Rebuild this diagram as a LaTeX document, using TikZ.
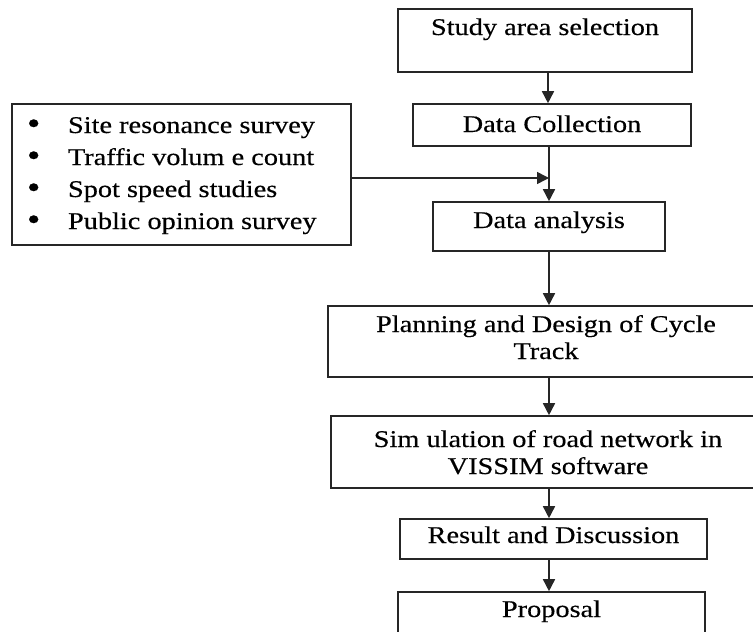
\documentclass[tikz,border=0pt]{standalone}
\usepackage{fontspec}
\setmainfont{Liberation Serif}[FakeStretch=1.18,FakeBold=0.4]
\usetikzlibrary{arrows.meta}
\newcommand{\flowtext}[4]{\parbox[c][#2][t]{#1}{\centering\setlength{\baselineskip}{27pt}\rule{0pt}{#3}#4\par}}
\newcommand{\surveyitem}[1]{\makebox[41pt][l]{\raisebox{-1pt}{\scalebox{1.35}{\textbullet}}}#1}
\tikzset{
  stepbox/.style={draw=black!85, line width=1.6pt, inner sep=0pt},
  flow/.style={draw=black!85, line width=1.6pt, -{Triangle[width=12pt,length=12pt]}}
}
\begin{document}
\begin{tikzpicture}[x=1pt,y=-1pt,font=\fontsize{24pt}{27pt}\selectfont]
\useasboundingbox (0,0) rectangle (753,632);
\clip (0,0) rectangle (753,632);
% main steps
\node[stepbox] (study) at (545,40.5) {\flowtext{294pt}{63pt}{26pt}{Study area selection}};
\node[stepbox] (collect) at (552,125) {\flowtext{278pt}{42pt}{28pt}{Data Collection}};
\node[stepbox] (analysis) at (549,226.5) {\flowtext{232pt}{49pt}{26pt}{Data analysis}};
\node[stepbox] (planning) at (546,341.5) {\flowtext{436pt}{71pt}{26pt}{Planning and Design of Cycle\\ Track}};
\node[stepbox] (simulation) at (548,452) {\flowtext{434pt}{72pt}{31pt}{Sim ulation of road network in\\ VISSIM software}};
\node[stepbox] (result) at (553.5,539) {\flowtext{307pt}{40pt}{24pt}{Result and Discussion}};
\node[stepbox] (proposal) at (551.5,617) {\flowtext{307pt}{50pt}{25pt}{Proposal}};
% survey list
\node[stepbox] (survey) at (181.5,174.5) {\parbox[c][141pt][t]{339pt}{\setlength{\baselineskip}{32pt}\leftskip=15pt
  \rule{0pt}{29pt}\surveyitem{Site resonance survey}\\
  \surveyitem{Traffic volum e count}\\
  \surveyitem{Spot speed studies}\\
  \surveyitem{Public opinion survey}\par}};
% connectors
\coordinate (spine) at (548,0);
\coordinate (join) at (549,178);
\draw[flow] (study.south -| spine) -- (collect.north -| spine);
\draw[stepbox] (collect.south -| join) -- (join);
\draw[flow] (join) -- (analysis.north -| join);
\draw[flow] (survey.east |- join) -- (join);
\draw[flow] (analysis.south -| join) -- (planning.north -| join);
\draw[flow] (planning.south -| join) -- (simulation.north -| join);
\draw[flow] (simulation.south -| join) -- (result.north -| join);
\draw[flow] (result.south -| join) -- (proposal.north -| join);
\end{tikzpicture}
\end{document}
